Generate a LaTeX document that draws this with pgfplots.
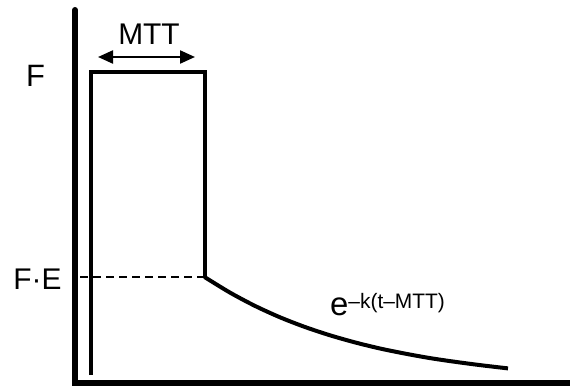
\documentclass[border=0pt]{standalone}
\usepackage{fontspec}
\setmainfont{Liberation Sans}
\usepackage{pgfplots}
\pgfplotsset{compat=1.18}
\usetikzlibrary{arrows.meta}
\begin{document}
\begin{tikzpicture}
\path[use as bounding box] (0,0) rectangle (570bp,386bp);
\begin{axis}[
  x=1bp, y=1bp, xmin=0, xmax=570, ymin=0, ymax=386,
  anchor=origin, at={(0,0)}, hide axis, clip=false, scale only axis,
]
% axes
\addplot[black, line width=6bp, line cap=round, line join=miter, mark=none] coordinates {(75,376) (75,3) (580,3)};
% pulse
\addplot[black, line width=4bp, line join=miter, mark=none] coordinates {(91,11) (91,314) (204.5,314) (204.5,109)};
% dashed level
\addplot[black, line width=2.3bp, dash pattern=on 8bp off 5bp, mark=none] coordinates {(80,109) (204.5,109)};
% decay
\addplot[black, line width=4bp, mark=none, smooth] coordinates {
(204.5,109) (230,93.4) (255,80.1) (280,68.7) (305,59.0) (330,50.7) (355,43.6)
(380,37.5) (405,32.4) (430,27.9) (455,24.2) (480,20.9) (508,17.6)};
% arrow
\draw[black, line width=2.2bp, {Triangle[length=15bp,width=13bp]}-{Triangle[length=15bp,width=13bp]}] (axis cs:98,329) -- (axis cs:195,329);
% labels
\node[anchor=base, inner sep=0pt, font=\fontsize{30}{30}\selectfont] at (axis cs:149,342) {MTT};
\node[anchor=base, inner sep=0pt, font=\fontsize{31}{31}\selectfont] at (axis cs:35.5,300) {F};
\node[anchor=base, inner sep=0pt, font=\fontsize{30}{30}\selectfont] at (axis cs:37.5,97) {F·E};
\node[anchor=base west, inner sep=0pt] at (axis cs:330,71) {{\fontsize{33}{33}\selectfont e}\raisebox{7bp}{\fontsize{21}{21}\selectfont –k(t–MTT)}};
\end{axis}
\end{tikzpicture}
\end{document}
